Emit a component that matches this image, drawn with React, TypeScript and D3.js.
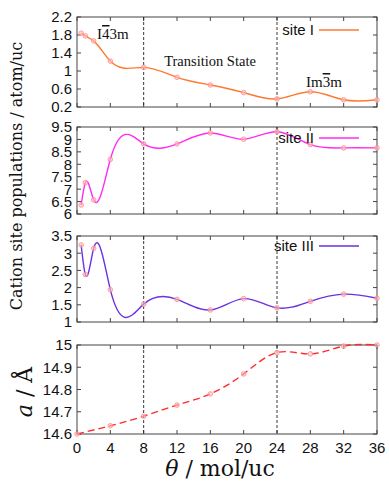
import * as d3 from "d3";
import { useEffect, useRef } from "react";

// theta values (mol/uc)
const thetaSites = [0.5, 1, 2, 4, 8, 12, 16, 20, 24, 28, 32, 36];
const thetaLattice = [0, 4, 8, 12, 16, 20, 24, 28, 32, 36];

const siteI = [1.84, 1.78, 1.67, 1.22, 1.08, 0.86, 0.69, 0.52, 0.38, 0.54, 0.36, 0.36];
const siteII = [6.36, 7.26, 6.57, 8.2, 8.82, 8.82, 9.26, 9.01, 9.31, 8.79, 8.66, 8.66];
const siteIII = [3.24, 2.38, 3.14, 1.94, 1.52, 1.66, 1.35, 1.68, 1.41, 1.6, 1.81, 1.69];
const latticeA = [14.6, 14.637, 14.68, 14.73, 14.78, 14.87, 14.966, 14.96, 14.995, 15.0];

const xTicks = [0, 4, 8, 12, 16, 20, 24, 28, 32, 36];
const phaseLines = [8, 24];

const ticksI = [0.2, 0.6, 1, 1.4, 1.8, 2.2];
const ticksII = [6, 6.5, 7, 7.5, 8, 8.5, 9, 9.5];
const ticksIII = [1, 1.5, 2, 2.5, 3, 3.5];
const ticksA = [14.6, 14.7, 14.8, 14.9, 15];

// natural cubic spline (y as a function of x), emitted as bezier segments
class CSpline {
  _context: any;
  _x: number[] = [];
  _y: number[] = [];
  constructor(context: any) {
    this._context = context;
  }
  areaStart() {}
  areaEnd() {}
  lineStart() {
    this._x = [];
    this._y = [];
  }
  point(x: number, y: number) {
    this._x.push(+x);
    this._y.push(+y);
  }
  lineEnd() {
    const xs = this._x, ys = this._y, n = xs.length - 1;
    if (n < 0) return;
    this._context.moveTo(xs[0], ys[0]);
    if (n === 0) return;
    const h = d3.range(n).map(i => xs[i + 1] - xs[i]);
    const M = new Array(n + 1).fill(0);
    if (n > 1) {
      const a: number[] = [], b: number[] = [], c: number[] = [], r: number[] = [];
      for (let i = 1; i < n; i++) {
        a.push(h[i - 1]);
        b.push(2 * (h[i - 1] + h[i]));
        c.push(h[i]);
        r.push(6 * ((ys[i + 1] - ys[i]) / h[i] - (ys[i] - ys[i - 1]) / h[i - 1]));
      }
      const m = b.length;
      for (let i = 1; i < m; i++) {
        const w = a[i] / b[i - 1];
        b[i] -= w * c[i - 1];
        r[i] -= w * r[i - 1];
      }
      const sol = new Array(m).fill(0);
      sol[m - 1] = r[m - 1] / b[m - 1];
      for (let i = m - 2; i >= 0; i--) sol[i] = (r[i] - c[i] * sol[i + 1]) / b[i];
      for (let i = 1; i < n; i++) M[i] = sol[i - 1];
    }
    for (let i = 0; i < n; i++) {
      const hi = h[i];
      const s = (ys[i + 1] - ys[i]) / hi;
      const mL = s - (hi * (2 * M[i] + M[i + 1])) / 6;
      const mR = s + (hi * (M[i] + 2 * M[i + 1])) / 6;
      this._context.bezierCurveTo(
        xs[i] + hi / 3, ys[i] + (mL * hi) / 3,
        xs[i + 1] - hi / 3, ys[i + 1] - (mR * hi) / 3,
        xs[i + 1], ys[i + 1]
      );
    }
  }
}
const curveCSpline = (context: any) => new CSpline(context);

export default function App() {
  const svgRef = useRef<SVGSVGElement>(null);

  useEffect(() => {
    const svg = d3.select(svgRef.current);
    svg.selectAll("*").remove();

    const sans = "Liberation Sans, Arial, sans-serif";
    const serif = "DejaVu Serif, serif";
    const x = d3.scaleLinear().domain([0, 36]).range([77, 377]);

    const panels = [
      { xs: thetaSites, ys: siteI, ticks: ticksI, domain: [0.2, 2.2], top: 17, bottom: 107, color: "#ff7a30", label: "site I", dash: null },
      { xs: thetaSites, ys: siteII, ticks: ticksII, domain: [6, 9.5], top: 127, bottom: 214, color: "#ff2cf0", label: "site II", dash: null },
      { xs: thetaSites, ys: siteIII, ticks: ticksIII, domain: [1, 3.5], top: 236, bottom: 322, color: "#6a32e0", label: "site III", dash: null },
      { xs: thetaLattice, ys: latticeA, ticks: ticksA, domain: [14.6, 15], top: 345, bottom: 434, color: "#ff2a2a", label: null, dash: "7,4" },
    ];

    panels.forEach((p, pi) => {
      const y = d3.scaleLinear().domain(p.domain).range([p.bottom, p.top]);
      const g = svg.append("g");

      // frame
      g.append("rect")
        .attr("x", 77).attr("y", p.top)
        .attr("width", 300).attr("height", p.bottom - p.top)
        .attr("fill", "none").attr("stroke", "#444").attr("stroke-width", 1);

      // ticks inward on all sides
      xTicks.forEach(t => {
        g.append("line").attr("x1", x(t)).attr("x2", x(t))
          .attr("y1", p.bottom).attr("y2", p.bottom - 4).attr("stroke", "#444");
        g.append("line").attr("x1", x(t)).attr("x2", x(t))
          .attr("y1", p.top).attr("y2", p.top + 4).attr("stroke", "#444");
      });
      p.ticks.forEach(t => {
        g.append("line").attr("x1", 77).attr("x2", 81)
          .attr("y1", y(t)).attr("y2", y(t)).attr("stroke", "#444");
        g.append("line").attr("x1", 377).attr("x2", 373)
          .attr("y1", y(t)).attr("y2", y(t)).attr("stroke", "#444");
        g.append("text")
          .attr("x", 72).attr("y", y(t)).attr("dy", "0.36em")
          .attr("text-anchor", "end")
          .attr("font-family", sans).attr("font-size", 15).attr("fill", "#111")
          .text(String(t));
      });

      // phase boundaries
      phaseLines.forEach(t => {
        g.append("line").attr("x1", x(t)).attr("x2", x(t))
          .attr("y1", p.top).attr("y2", p.bottom)
          .attr("stroke", "#222").attr("stroke-width", 0.9)
          .attr("stroke-dasharray", "3,2");
      });

      const line = d3.line<number>()
        .x((_, i) => x(p.xs[i]))
        .y(d => y(d))
        .curve(curveCSpline as any);

      g.append("path")
        .attr("d", line(p.ys))
        .attr("fill", "none")
        .attr("stroke", p.color)
        .attr("stroke-width", 1.4)
        .attr("stroke-dasharray", p.dash);

      g.selectAll("circle.pt")
        .data(p.ys)
        .enter()
        .append("circle")
        .attr("cx", (_, i) => x(p.xs[i]))
        .attr("cy", d => y(d))
        .attr("r", 2.3)
        .attr("fill", "#ffc0c0")
        .attr("fill-opacity", 0.6)
        .attr("stroke", "#ff8a8a")
        .attr("stroke-width", 0.8);

      if (p.label) {
        const ly = pi === 0 ? 30 : pi === 1 ? 138 : 246;
        g.append("text")
          .attr("x", 314).attr("y", ly).attr("dy", "0.35em")
          .attr("text-anchor", "end")
          .attr("font-family", sans).attr("font-size", 15).attr("fill", "#111")
          .text(p.label);
        g.append("line")
          .attr("x1", 319).attr("x2", 359)
          .attr("y1", ly).attr("y2", ly)
          .attr("stroke", p.color).attr("stroke-width", 1.4);
      }

      if (pi === 3) {
        xTicks.forEach(t => {
          g.append("text")
            .attr("x", x(t)).attr("y", 448).attr("dy", "0.36em")
            .attr("text-anchor", "middle")
            .attr("font-family", sans).attr("font-size", 15).attr("fill", "#111")
            .text(String(t));
        });
      }
    });

    // phase annotations (space group symbols with overbars)
    const annot = "Liberation Serif, Times New Roman, serif";
    const sg1 = svg.append("text").attr("x", 97).attr("y", 39)
      .attr("font-family", annot).attr("font-size", 15).attr("fill", "#111");
    sg1.append("tspan").text("I");
    sg1.append("tspan").attr("text-decoration", "overline").text("4");
    sg1.append("tspan").text("3m");

    svg.append("text").attr("x", 210).attr("y", 66).attr("text-anchor", "middle")
      .attr("font-family", annot).attr("font-size", 14.5).attr("fill", "#111")
      .text("Transition State");

    const sg2 = svg.append("text").attr("x", 306).attr("y", 87)
      .attr("font-family", annot).attr("font-size", 15).attr("fill", "#111");
    sg2.append("tspan").text("Im");
    sg2.append("tspan").attr("text-decoration", "overline").text("3");
    sg2.append("tspan").text("m");

    // axis titles
    svg.append("text")
      .attr("transform", "translate(22,176) rotate(-90)")
      .attr("text-anchor", "middle")
      .attr("font-family", serif).attr("font-size", 16).attr("fill", "#111")
      .text("Cation site populations / atom/uc");

    const aTitle = svg.append("text")
      .attr("transform", "translate(32,392) rotate(-90)")
      .attr("text-anchor", "middle")
      .attr("font-family", serif).attr("font-size", 22).attr("fill", "#111");
    aTitle.append("tspan").attr("font-style", "italic").text("a");
    aTitle.append("tspan").text(" / Å");

    const tTitle = svg.append("text")
      .attr("x", 220).attr("y", 476)
      .attr("text-anchor", "middle")
      .attr("font-family", serif).attr("font-size", 22).attr("fill", "#111");
    tTitle.append("tspan").attr("font-style", "italic").text("θ");
    tTitle.append("tspan").text(" / mol/uc");
  }, []);

  return (
    <svg
      ref={svgRef}
      width={389}
      height={482}
      style={{ position: "absolute", left: 0, top: 0, background: "#fff" }}
    />
  );
}
